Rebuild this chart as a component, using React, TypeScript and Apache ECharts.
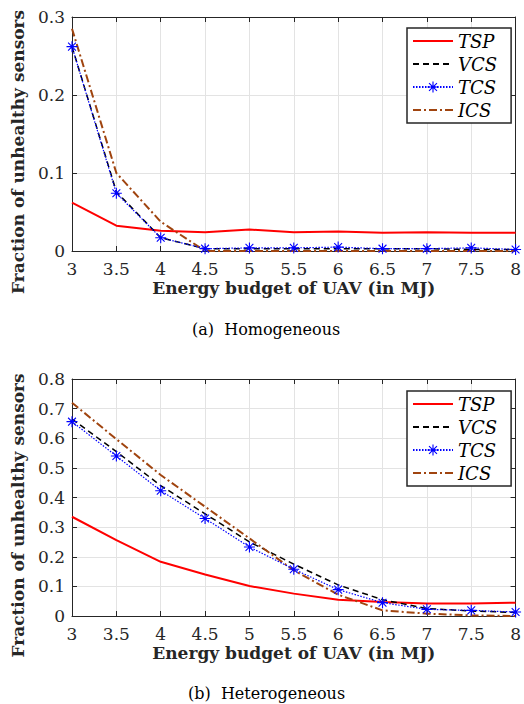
import React, { useEffect, useRef } from "react";
import * as echarts from "echarts";

const xValues = [3, 3.5, 4, 4.5, 5, 5.5, 6, 6.5, 7, 7.5, 8];
const seriesNames = ["TSP", "VCS", "TCS", "ICS"];

// (a) Homogeneous
const homTSP = [0.062, 0.0325, 0.026, 0.024, 0.0275, 0.024, 0.025, 0.0235, 0.024, 0.0235, 0.0235];
const homVCS = [0.262, 0.076, 0.017, 0.003, 0.003, 0.003, 0.003, 0.003, 0.003, 0.002, 0.002];
const homTCS = [0.262, 0.074, 0.017, 0.003, 0.004, 0.004, 0.005, 0.003, 0.003, 0.004, 0.002];
const homICS = [0.285, 0.1, 0.0375, 0.0, 0.0, 0.0, 0.0, 0.0, 0.0, 0.0, 0.0];

// (b) Heterogeneous
const hetTSP = [0.335, 0.256, 0.183, 0.14, 0.101, 0.0755, 0.055, 0.047, 0.042, 0.042, 0.045];
const hetVCS = [0.665, 0.555, 0.44, 0.345, 0.25, 0.175, 0.105, 0.055, 0.025, 0.017, 0.012];
const hetTCS = [0.656, 0.54, 0.423, 0.329, 0.233, 0.158, 0.089, 0.045, 0.0225, 0.019, 0.0135];
const hetICS = [0.72, 0.597, 0.476, 0.369, 0.262, 0.154, 0.072, 0.019, 0.008, 0.002, 0.0];

const xTicks = { min: 3, max: 8, interval: 0.5 };
const yTicksTop = { min: 0, max: 0.3, interval: 0.1 };
const yTicksBottom = { min: 0, max: 0.8, interval: 0.1 };

const xLabel = "Energy budget of UAV (in MJ)";
const yLabel = "Fraction of unhealthy sensors";
const captions = ["(a)  Homogeneous", "(b)  Heterogeneous"];

const STAR =
  "path://M0,4.5 H10 V5.5 H0 Z M4.5,0 H5.5 V10 H4.5 Z M1.1,1.8 L1.8,1.1 L8.9,8.2 L8.2,8.9 Z M8.2,1.1 L8.9,1.8 L1.8,8.9 L1.1,8.2 Z";

const AX = "#262626";
const SERIF = "DejaVu Serif";

function pairs(ys: number[]) {
  return xValues.map((x, i) => [x, ys[i]]);
}

function fmt(v: number) {
  return String(+v.toFixed(2));
}

function makeAxes(gridIndex: number, yr: { min: number; max: number; interval: number }) {
  const xMain = {
    type: "value",
    gridIndex,
    position: "bottom",
    ...xTicks,
    name: xLabel,
    nameLocation: "middle",
    nameGap: 28,
    nameTextStyle: { fontFamily: SERIF, fontWeight: "bold", fontSize: 17, color: AX, lineHeight: 17 },
    axisLine: { show: true, onZero: false, lineStyle: { color: AX, width: 1 } },
    axisTick: { show: true, inside: true, length: 5, lineStyle: { color: AX } },
    axisLabel: { fontFamily: SERIF, fontSize: 17, lineHeight: 17, color: AX, margin: 9, formatter: fmt },
    splitLine: { show: true, lineStyle: { color: "#e3e3e3", width: 1 } },
  };
  const xTop = {
    type: "value",
    gridIndex,
    position: "top",
    ...xTicks,
    axisLine: { show: true, onZero: false, lineStyle: { color: AX, width: 1 } },
    axisTick: { show: true, inside: true, length: 5, lineStyle: { color: AX } },
    axisLabel: { show: false },
    splitLine: { show: false },
  };
  const yMain = {
    type: "value",
    gridIndex,
    position: "left",
    ...yr,
    name: yLabel,
    nameLocation: "middle",
    nameGap: 46,
    nameRotate: 90,
    nameTextStyle: {
      fontFamily: SERIF,
      fontWeight: "bold",
      fontSize: 17,
      color: AX,
      padding: [0, 36, 0, 0],
    },
    axisLine: { show: true, onZero: false, lineStyle: { color: AX, width: 1 } },
    axisTick: { show: true, inside: true, length: 5, lineStyle: { color: AX } },
    axisLabel: { fontFamily: SERIF, fontSize: 17, color: AX, margin: 7, formatter: fmt },
    splitLine: { show: true, lineStyle: { color: "#e3e3e3", width: 1 } },
  };
  const yRight = {
    type: "value",
    gridIndex,
    position: "right",
    ...yr,
    axisLine: { show: true, onZero: false, lineStyle: { color: AX, width: 1 } },
    axisTick: { show: true, inside: true, length: 5, lineStyle: { color: AX } },
    axisLabel: { show: false },
    splitLine: { show: false },
  };
  return { x: [xMain, xTop], y: [yMain, yRight] };
}

function makeSeries(axisIdx: number, data: number[][]) {
  const [tsp, vcs, tcs, ics] = data;
  const base = { type: "line", xAxisIndex: axisIdx, yAxisIndex: axisIdx, animation: false };
  return [
    {
      ...base,
      name: "TSP",
      data: pairs(tsp),
      symbol: "none",
      lineStyle: { color: "#ff0000", width: 2, type: "solid" },
      itemStyle: { color: "#ff0000" },
      z: 2,
    },
    {
      ...base,
      name: "VCS",
      data: pairs(vcs),
      symbol: "none",
      lineStyle: { color: "#000000", width: 1.5, type: [6, 4] },
      itemStyle: { color: "#000000" },
      z: 3,
    },
    {
      ...base,
      name: "ICS",
      data: pairs(ics),
      symbol: "none",
      lineStyle: { color: "#a0440f", width: 2, type: [8, 3, 2, 3] },
      itemStyle: { color: "#a0440f" },
      z: 4,
    },
    {
      ...base,
      name: "TCS",
      data: pairs(tcs),
      symbol: STAR,
      symbolSize: 11,
      showAllSymbol: true,
      lineStyle: { color: "#0000ff", width: 1.2, type: [1.5, 1.5] },
      itemStyle: { color: "#0000ff" },
      z: 5,
    },
  ];
}

function makeLegend(top: number) {
  return {
    orient: "vertical",
    left: 407,
    top,
    data: seriesNames.map((n) =>
      n === "TCS" ? { name: n } : { name: n, itemStyle: { opacity: 0 } }
    ),
    backgroundColor: "#ffffff",
    borderColor: AX,
    borderWidth: 1.5,
    borderRadius: 0,
    padding: [4, 14, 4, 5],
    itemWidth: 40,
    itemHeight: 14,
    itemGap: 5,
    selectedMode: false,
    textStyle: { fontFamily: SERIF, fontStyle: "italic", fontSize: 18, color: "#000" },
  };
}

export default function App() {
  const ref = useRef<HTMLDivElement>(null);
  useEffect(() => {
    if (!ref.current) return;
    const chart = echarts.init(ref.current, undefined, { renderer: "svg" });
    const a0 = makeAxes(0, yTicksTop);
    const a1 = makeAxes(1, yTicksBottom);
    chart.setOption({
      animation: false,
      backgroundColor: "#ffffff",
      textStyle: { fontFamily: SERIF },
      grid: [
        { left: 72, right: 5, top: 17, height: 234 },
        { left: 72, right: 5, top: 379, height: 237 },
      ],
      xAxis: [...a0.x, ...a1.x],
      yAxis: [...a0.y, ...a1.y],
      legend: [makeLegend(28), makeLegend(391)],
      series: [
        ...makeSeries(0, [homTSP, homVCS, homTCS, homICS]),
        ...makeSeries(2, [hetTSP, hetVCS, hetTCS, hetICS]),
      ],
      graphic: [
        {
          type: "text",
          left: 192,
          top: 321,
          style: { text: captions[0], font: `16px ${SERIF}`, fill: "#000" },
        },
        {
          type: "text",
          left: 188,
          top: 685,
          style: { text: captions[1], font: `16px ${SERIF}`, fill: "#000" },
        },
      ],
    });
    return () => chart.dispose();
  }, []);
  return (
    <div
      ref={ref}
      style={{ position: "fixed", left: 0, top: 0, width: 524, height: 704, background: "#fff" }}
    />
  );
}
